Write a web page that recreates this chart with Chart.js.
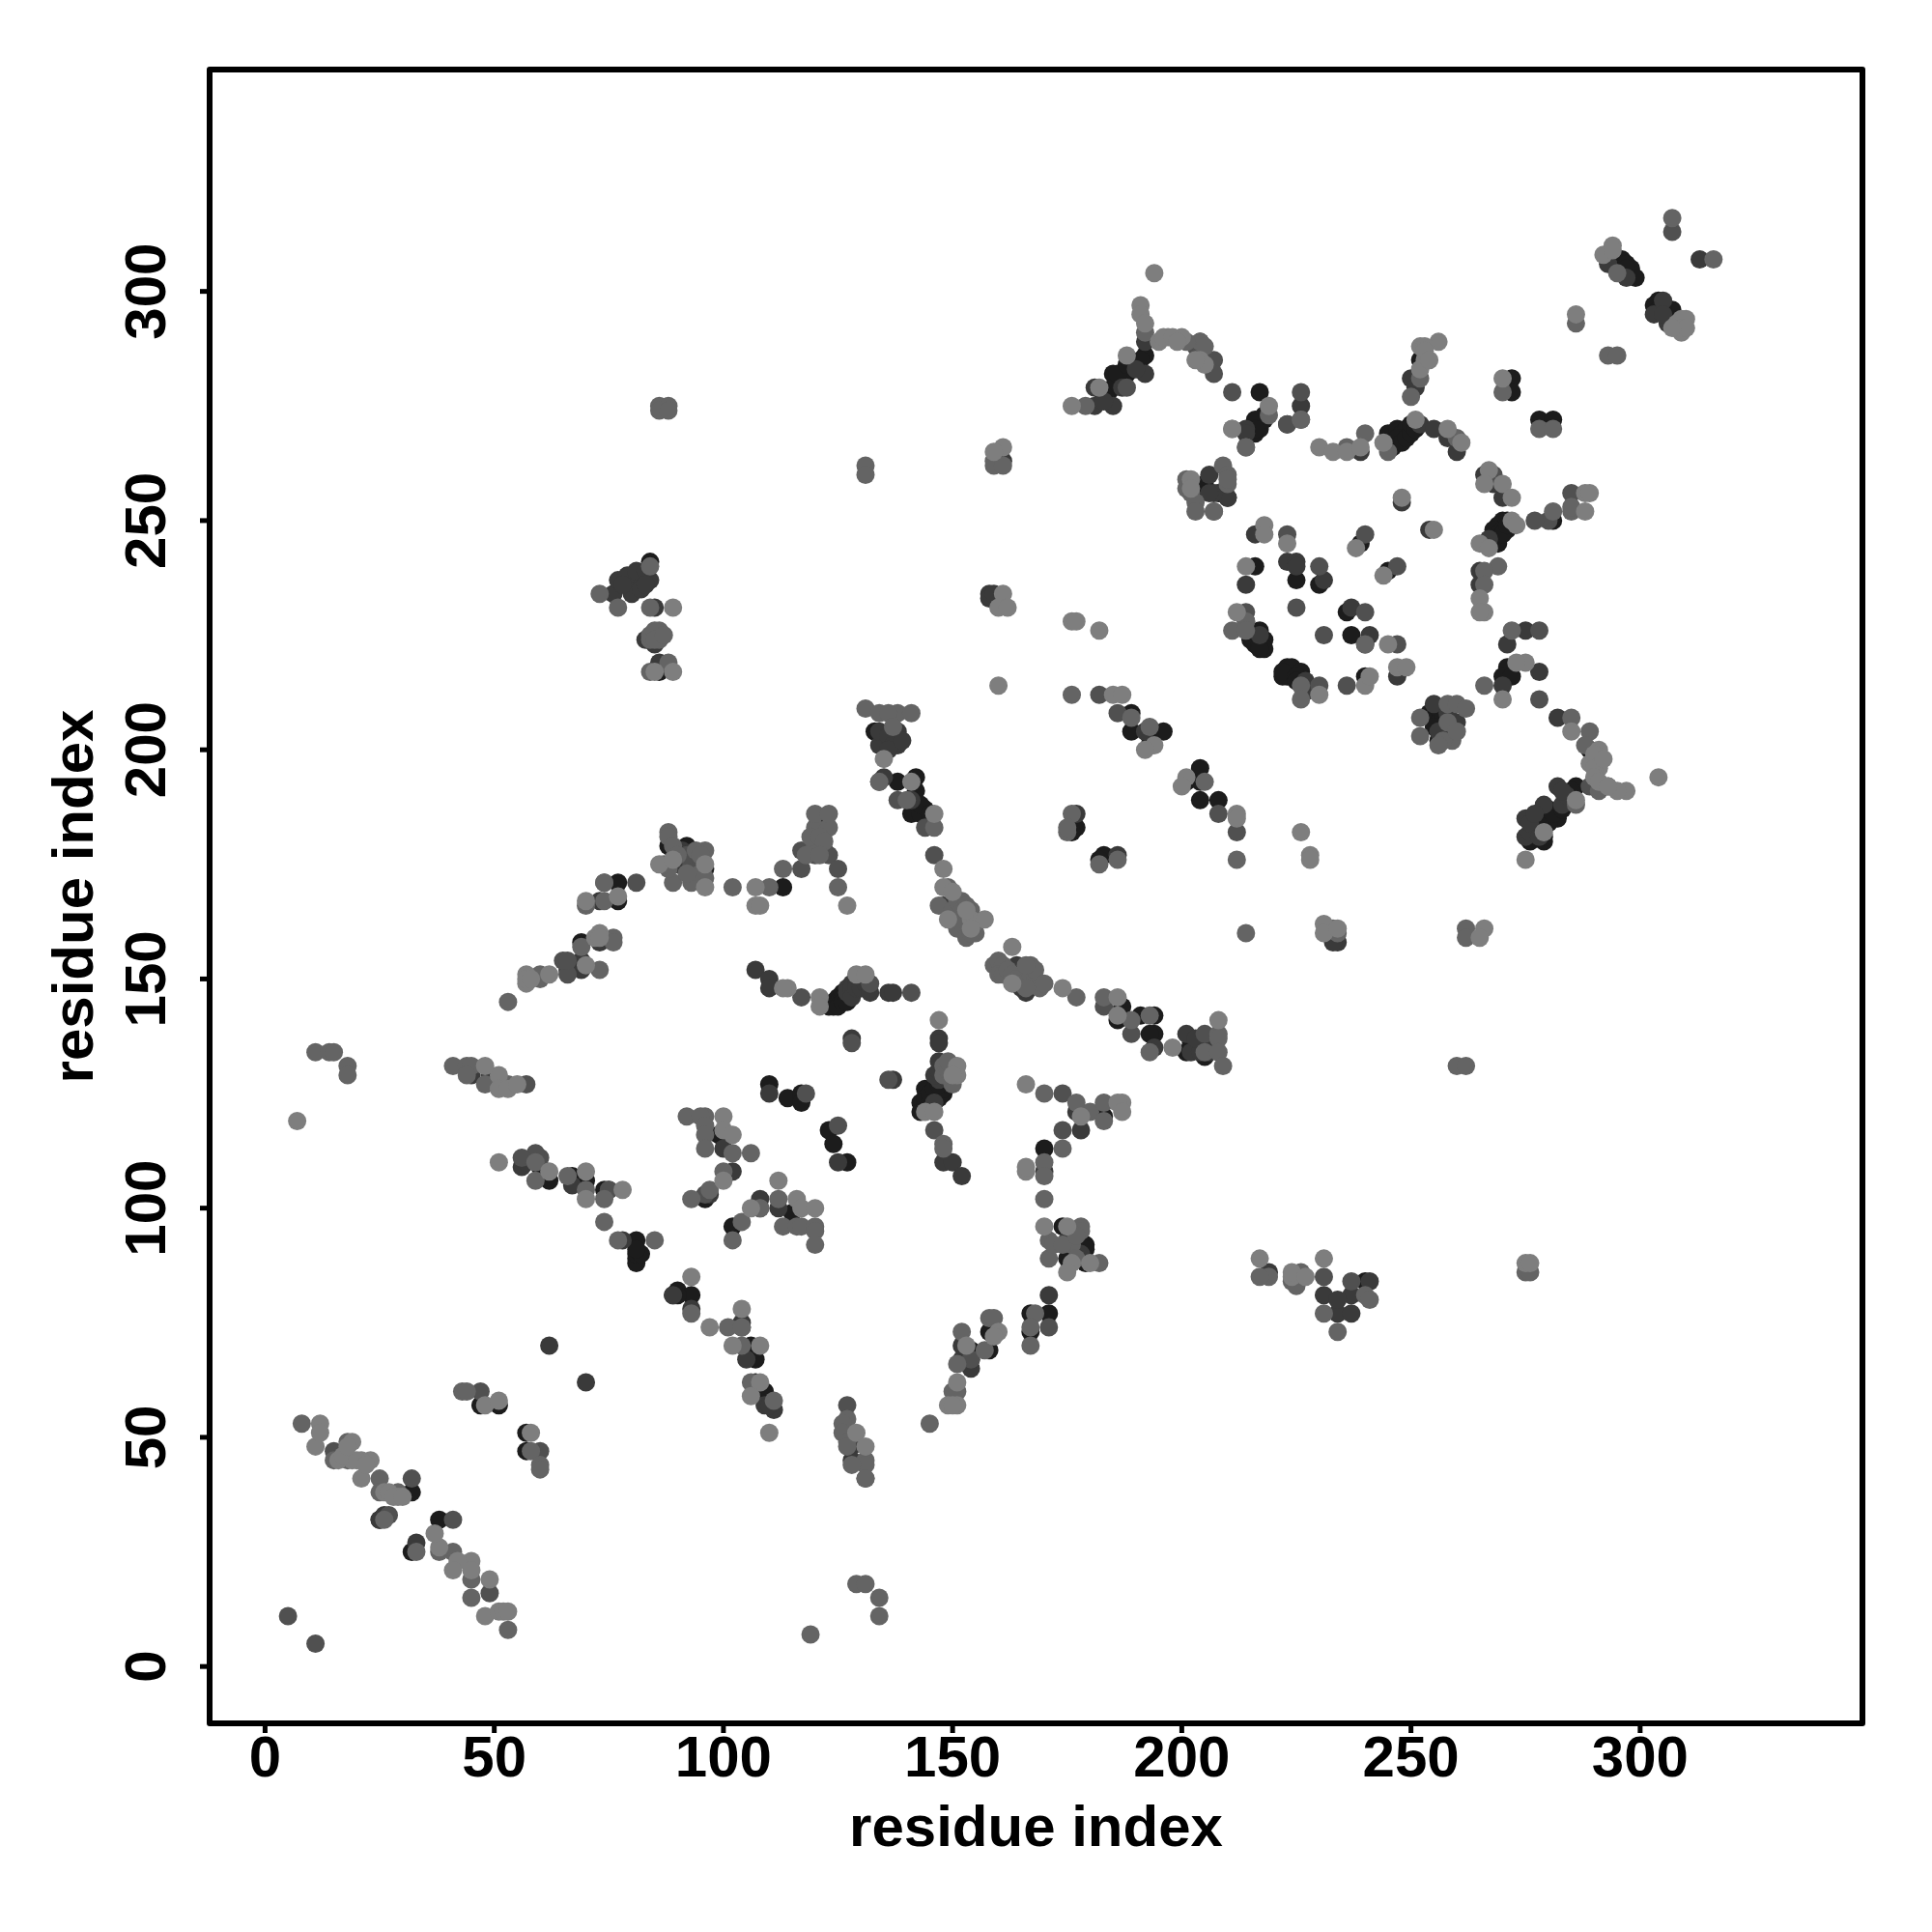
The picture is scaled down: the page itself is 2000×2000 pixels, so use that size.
<!DOCTYPE html>
<html>
<head>
<meta charset="utf-8">
<style>html,body{margin:0;padding:0;background:#fff}canvas{display:block}</style>
<script src="https://cdn.jsdelivr.net/npm/chart.js@4"></script>
</head>
<body>
<canvas id="contactMap" width="2000" height="2000"></canvas>
<script>
const tickValues = [0, 50, 100, 150, 200, 250, 300];
const axisLabel = 'residue index';

// contact pairs [i, j], split by grey level
const lightPoints = [[48,11],[51,12],[52,12],[53,12],[49,19],[45,23],[45,21],[42,23],[41,21],[38,26],[37,29],[29,37],[26,38],[27,38],[28,37],[30,37],[21,41],[23,45],[21,45],[19,45],[16,45],[17,46],[20,45],[22,44],[19,49],[18,48],[11,48],[12,53],[12,51],[48,57],[51,58],[58,51],[93,85],[97,74],
[51,129],[51,126],[53,126],[55,127],[48,131],[57,151],[57,149],[57,150],[58,150],[62,151],[70,153],[73,160],[72,159],[73,159],[70,167],[77,168],[86,175],[89,176],[96,175],[96,170],[107,170],[107,166],[108,166],[114,148],[113,148],[127,166],[121,146],[121,144],[129,151],[131,151],[100,120],[100,117],[102,116],[100,106],[51,110],[62,108],[70,108],[70,102],[78,104],[106,100],[112,106],[116,102],[117,100],[120,100],[104,78],[102,70],[108,70],[108,62],[106,59],[110,51],[129,51],[131,48],[149,57],[151,57],[150,57],[151,62],[153,70],[160,73],[159,72],[166,127],[178,120],[187,123],[186,123],[187,121],[166,108],[166,109],[170,96],[175,96],[176,88],[175,86],[180,88],[7,119],
[144,121],[146,121],[151,129],[147,141],[151,131],[150,129],[185,212],[187,212],[194,201],[192,200],[201,194],[200,192],[212,186],[212,185],[135,198],[141,193],[146,186],[148,174],[148,170],[154,163],[157,163],[149,163],[153,165],[154,161],[150,169],[163,157],[163,149],[174,148],[186,142],[186,146],[198,135],[208,141],
[211,270],[230,266],[233,265],[236,265],[239,266],[244,267],[251,272],[258,270],[261,267],[267,261],[266,258],[270,258],[272,255],[272,250],[273,249],[265,245],[267,244],[288,252],[288,256],[289,256],[265,233],[266,230],[265,230],[275,219],[273,219],[270,211],[285,204],[291,200],[289,197],[291,197],[291,196],[290,199],[290,196],[292,198],[290,194],[291,193],[304,194],[297,191],[295,191],[293,192],[218,249],[218,247],[223,245],[238,244],[244,238],[214,240],[212,230],[245,223],[247,218],[249,218],[240,214],[241,216],[230,212],[248,255],[255,248],[286,189],[279,182],[275,176],[202,259],[202,257],
[194,304],[191,297],[191,295],[192,293],[188,286],[197,290],[195,289],[200,290],[196,290],[198,290],[199,289],[204,285],[205,284],[203,285],[176,275],[182,279],[211,270],[219,275],[256,289],[252,288],[253,288],[253,285],[252,283],[253,287],[254,285],[270,281],[286,295],[294,310],[292,308],[294,309],[308,293],[310,294],[309,291],[309,294],[309,292],[310,292],[307,292],
[226,182],[228,177],[228,176],[231,162],[231,160],[234,161],[266,161],[265,159],[161,266],[159,265],[161,234],[160,231],[162,231],[160,214],[89,231],[89,217],[85,217],[217,89],[224,85],[224,86],[227,85],[275,88],[276,88],[231,89],[182,226],[176,228],[177,228]];

const midPoints = [[53,8],[45,19],[45,15],[41,25],[38,25],[33,25],[29,38],[25,41],[25,38],[26,32],[18,45],[15,45],[18,49],[8,53],[43,60],[44,60],[58,47],[60,44],[60,43],[93,77],
[41,131],[44,131],[45,131],[44,129],[48,127],[53,127],[53,145],[60,151],[60,150],[69,157],[73,152],[76,159],[76,158],[70,166],[74,167],[74,171],[88,182],[88,181],[89,179],[96,178],[89,171],[93,171],[90,177],[94,178],[95,177],[95,173],[88,174],[87,175],[92,173],[96,172],[102,170],[110,170],[113,174],[120,179],[121,179],[120,183],[123,183],[125,170],[120,186],[123,186],[118,177],[119,181],[121,181],[122,180],[121,177],
[92,120],[96,120],[95,120],[96,118],[96,116],[96,113],[102,112],[106,112],[100,108],[93,102],[97,104],[102,93],[104,97],[108,100],[112,102],[113,96],[116,96],[117,96],[120,96],[120,95],[120,92],[59,106],[59,110],[66,107],[70,104],[74,102],[74,97],[77,93],[85,93],[101,74],[104,70],[106,62],[104,74],[111,58],[127,54],[126,53],[126,51],[127,49],[127,48],[131,45],[131,44],[131,41],[128,44],[145,53],[150,60],[151,60],[152,73],[151,66],[158,76],[159,76],[157,69],[167,70],[168,77],[167,74],[170,125],[177,123],[180,121],[183,123],[183,119],[174,113],[170,110],[170,107],[170,102],[178,96],[178,95],[171,93],[176,92],[171,89],[172,92],[174,92],[177,94],[177,89],[182,88],[11,134],[14,134],[15,134],[18,131],[18,129],
[148,131],[150,127],[148,129],[149,130],[150,131],[148,114],[148,113],[176,212],[193,205],[189,207],[205,193],[212,176],[214,160],[176,186],[175,182],[175,183],[182,175],[186,176],[131,209],[134,208],[138,208],[141,208],[136,208],[137,205],[134,193],[140,189],[146,183],[149,170],[147,166],[152,167],[150,165],[151,167],[152,165],[153,163],[152,162],[154,165],[153,166],[155,162],[155,160],[151,161],[153,161],[153,159],[154,160],[151,163],[159,153],[160,154],[161,153],[160,151],[161,151],[162,152],[163,151],[164,150],[165,149],[167,151],[168,150],[167,153],[168,152],[169,148],[166,153],[166,148],[170,149],[177,146],[183,146],[189,141],[193,142],[193,134],[208,138],[208,137],[205,134],[208,134],[209,131],[149,132],
[214,266],[219,273],[226,272],[236,266],[240,269],[245,265],[260,268],[209,262],[210,260],[210,258],[210,259],[201,259],[201,257],[202,256],[203,254],[203,252],[207,252],[207,252],[281,252],[285,252],[285,253],[269,240],[266,239],[266,236],[272,226],[266,214],[285,207],[293,192],[291,191],[286,188],[214,228],[211,226],[214,226],[226,214],[226,211],[240,223],[258,210],[260,210],[262,209],[252,207],[252,203],[258,206],[259,202],[257,202],[256,201],[260,204],[289,204],[288,201],
[192,291],[204,289],[201,289],[205,288],[179,275],[226,272],[214,266],[252,281],[250,277],[270,278],[278,270],[281,270],[286,293],[293,286],[295,286],[295,304],[307,316],[316,307],[233,161],[234,160],[262,161],[262,159],[260,131],[262,131],[86,275],[88,275],[86,274],[88,274],[131,262],[131,260],[159,263],[159,262],[161,262],[73,234],[77,231],[84,231],[84,240],[84,224],[86,226],[86,224],[84,225],[85,226],[85,224],[87,225],[84,217],[88,219],[219,85],[217,85],[225,85],[226,86],[224,84],[225,83],[231,77],[234,73],[240,81],[241,80],[275,86],[276,86],[119,7],[129,18],[131,18],[134,15],[134,11]];

const darkMidPoints = [[5,11],[11,5],[49,16],[41,32],[32,41],[15,47],[47,60],[60,47],[27,33],
[57,127],[66,151],[65,154],[66,154],[74,171],[81,171],[117,174],[117,178],[120,177],[123,177],[125,174],[93,175],[92,177],[117,146],[132,149],[141,147],[128,136],[96,103],[108,100],[60,111],[59,112],[56,111],[75,104],
[127,57],[131,41],[146,117],[171,74],[174,125],[174,117],[125,118],[118,125],[136,128],[154,67],
[182,212],[186,208],[208,186],[212,182],[138,189],[144,183],[146,177],[189,138],[183,144],[205,138],
[230,240],[223,247],[240,247],[247,240],[225,231],[240,230],[231,225],[247,223],[230,214],[236,214],[214,230],[268,260],[285,256],[278,226],[278,211],[207,285],[207,282],[211,278],[204,289],[203,288],[188,279],[226,278],[223,271],[289,192],[307,313],[280,250],[277,250],[231,85],[237,84]];

const darkPoints = [[62,70],[70,62],[33,27],[93,78],[89,81],[25,32],[26,33],
[45,129],[49,129],[66,152],[69,154],[69,152],[73,158],[73,167],[90,178],[91,178],[90,175],[91,176],[94,176],[95,175],[107,152],[110,150],[110,148],[127,148],[128,149],[127,147],[128,148],[129,149],[129,150],[128,146],[129,148],[130,149],[130,148],[131,149],[132,147],[136,147],[137,147],[128,137],[137,128],[110,125],[125,110],[119,178],[120,178],[122,178],
[100,113],[102,108],[97,103],[108,102],[112,100],[56,109],[57,110],[67,105],[75,104],[78,93],[104,75],[104,74],[105,67],[109,57],[111,56],[110,57],[128,48],[128,45],[152,70],[152,67],[154,65],[154,67],[175,93],[178,117],[177,121],[170,108],[171,81],[178,90],[148,110],[150,110],[152,107],[147,128],[149,128],[146,123],[146,129],[147,130],
[177,186],[186,177],[192,204],[134,201],[138,201],[138,204],[134,204],[136,203],[137,201],[136,200],[139,202],[141,189],[147,137],[147,136],[147,132],[148,166],[149,166],[151,164],[164,153],[166,147],[166,150],[165,148],[194,135],[201,138],[202,134],[206,136],[204,134],[206,134],[203,137],[134,193],[135,194],
[214,270],[223,271],[239,265],[252,271],[255,270],[258,268],[260,265],[210,255],[207,256],[206,260],[206,256],[266,260],[266,245],[268,258],[270,255],[267,246],[265,239],[265,236],[275,226],[271,223],[278,217],[270,214],[282,207],[275,181],[282,192],[279,188],[283,188],[275,185],[276,182],[276,184],[278,181],[284,190],[283,191],[277,186],[216,247],[223,241],[225,241],[225,240],[231,237],[237,231],[240,223],[241,225],[214,236],[214,228],[217,225],[255,210],[260,206],[256,204],[259,204],[258,208],[247,216],[227,214],[227,215],[228,213],[248,254],[254,248],
[192,289],[192,282],[181,279],[181,275],[185,275],[183,276],[187,279],[190,283],[214,269],[226,275],[250,281],[251,279],[293,306],[303,295],[297,303],[306,293],[305,298],[305,295],[313,307],
[234,158],[233,158],[158,234],[158,233],[159,234],[161,263],[76,234],[80,234],[77,237],[80,237],[84,237],[79,238],[81,239],[83,239],[82,235],[78,236],[83,236],[85,231],[83,224],[85,223],[86,219],[231,81],[234,77],[237,77],[237,81],[241,84],[234,80],[219,86]];

const blackPoints = [[32,25],[32,38],[38,32],[25,32],[47,57],[51,57],[57,51],[57,47],[90,82],[89,81],[93,81],[90,81],[81,89],[81,88],[81,90],[82,90],
[69,158],[77,167],[77,171],[88,179],[92,179],[89,175],[92,175],[96,174],[113,170],[121,183],[123,144],[124,145],[125,146],[126,147],[125,145],[126,146],[124,144],[125,144],[126,145],[127,146],[127,145],[128,147],[110,127],[114,124],[117,125],[117,123],[123,117],[124,114],[127,110],
[60,109],[62,106],[67,107],[70,106],[74,104],[81,93],[81,91],[96,102],[102,96],[99,116],[115,99],[106,70],[107,67],[107,62],[109,60],[143,123],[144,126],[148,125],[143,121],[144,122],[144,124],[145,123],[145,125],[146,126],[147,124],[148,126],[149,127],[147,127],[154,69],[158,73],[158,69],[167,77],[167,73],[171,77],[183,120],[170,113],[174,96],[179,92],[179,91],[175,89],[179,88],
[177,183],[176,182],[183,177],[182,176],[189,208],[189,204],[196,204],[193,203],[193,201],[204,196],[201,193],[204,193],[204,189],[208,189],[133,204],[135,201],[137,203],[138,193],[142,194],[142,191],[141,186],[144,187],[143,186],[143,188],[145,186],[165,151],[187,144],[186,141],[191,142],[194,142],[194,138],[193,138],[201,134],[202,136],[203,135],[204,137],[205,133],
[215,270],[216,271],[217,271],[216,269],[217,270],[218,272],[218,273],[245,269],[246,267],[247,270],[248,269],[249,270],[246,266],[247,268],[248,267],[249,268],[250,269],[250,271],[251,270],[270,250],[269,249],[268,248],[271,248],[269,245],[270,248],[272,249],[271,250],[269,247],[267,245],[268,246],[270,247],[271,249],[281,250],[271,218],[270,216],[272,216],[286,192],[279,185],[282,185],[279,180],[277,183],[278,186],[280,184],[280,187],[281,186],[283,187],[276,180],[279,181],[285,191],[289,200],[216,240],[225,237],[230,236],[239,245],[245,239],[236,230],[217,226],[216,223],[218,224],[216,225],[215,224],[217,223],[218,222],[217,222],[237,225],[223,218],[224,218],[223,216],[226,217],[222,216],[222,217],[225,216],[225,215],[240,216],[255,207],[256,202],[254,208],[256,209],[256,206],[257,205],[258,205],[257,207],[255,205],[203,255],[205,258],[208,256],[210,255],
[192,286],[188,282],[185,282],[185,279],[183,277],[184,278],[186,280],[187,281],[189,283],[190,284],[191,285],[186,282],[188,284],[217,278],[216,272],[216,270],[252,285],[272,281],[272,278],[278,272],[281,272],[296,307],[298,305],[296,304],[297,306],[298,304],[297,305],[299,303],[304,298],[307,296],[303,297],[304,296],[305,297],[306,294],[84,241],[86,217],[240,84]];

const greys = ['#7e7e7e', '#646464', '#505050', '#3a3a3a', '#1c1c1c'];
const groups = [lightPoints, midPoints, darkMidPoints, darkPoints, blackPoints];

const frame = {
    id: 'frame',
    afterDraw(chart) {
        const a = chart.chartArea, c = chart.ctx;
        c.save();
        c.strokeStyle = '#000';
        c.lineWidth = 6;
        c.lineJoin = 'round';
        c.strokeRect(a.left, a.top, a.right - a.left, a.bottom - a.top);
        c.restore();
    }
};

const tickFont = {family: '"Liberation Sans"', size: 60, weight: 'bold', lineHeight: 1};

new Chart(document.getElementById('contactMap'), {
    type: 'scatter',
    data: {
        // first dataset is painted last, so the light greys land on top
        datasets: groups.map((g, i) => ({
            data: g.map(p => ({x: p[0], y: p[1]})),
            backgroundColor: greys[i],
            borderWidth: 0,
            pointRadius: 9.5,
            pointHoverRadius: 9.5
        }))
    },
    options: {
        responsive: false,
        animation: false,
        events: [],
        layout: {padding: {top: 72, right: 72, left: 0, bottom: 0}},
        plugins: {legend: {display: false}, tooltip: {enabled: false}},
        scales: {
            x: {
                type: 'linear', min: -12.1, max: 348.5,
                afterBuildTicks: s => { s.ticks = tickValues.map(v => ({value: v})); },
                afterFit: s => { s.height = 216; },
                grid: {display: false, drawTicks: true},
                border: {display: false},
                ticks: {color: '#000', font: tickFont, padding: 0, maxRotation: 0, autoSkip: false},
                title: {display: true, text: axisLabel, color: '#000', font: tickFont, padding: {top: 0, bottom: 76}}
            },
            y: {
                type: 'linear', min: -12.4, max: 348.4,
                afterBuildTicks: s => { s.ticks = tickValues.map(v => ({value: v})); },
                afterFit: s => { s.width = 217; },
                grid: {display: false},
                border: {display: false},
                ticks: {color: '#000', font: tickFont, padding: 4, minRotation: 90, maxRotation: 90, crossAlign: 'center', autoSkip: false},
                title: {display: true, text: axisLabel, color: '#000', font: tickFont, padding: {top: 49, bottom: 0}}
            }
        }
    },
    plugins: [frame, {
        id: 'tickMarks',
        afterDraw(chart) {
            const c = chart.ctx, a = chart.chartArea;
            c.save();
            c.strokeStyle = '#000';
            c.lineWidth = 5;
            tickValues.forEach(v => {
                const px = chart.scales.x.getPixelForValue(v);
                const py = chart.scales.y.getPixelForValue(v);
                c.beginPath(); c.moveTo(px, a.bottom); c.lineTo(px, a.bottom + 10); c.stroke();
                c.beginPath(); c.moveTo(a.left, py); c.lineTo(a.left - 10, py); c.stroke();
            });
            c.restore();
        }
    }]
});
</script>
</body>
</html>
